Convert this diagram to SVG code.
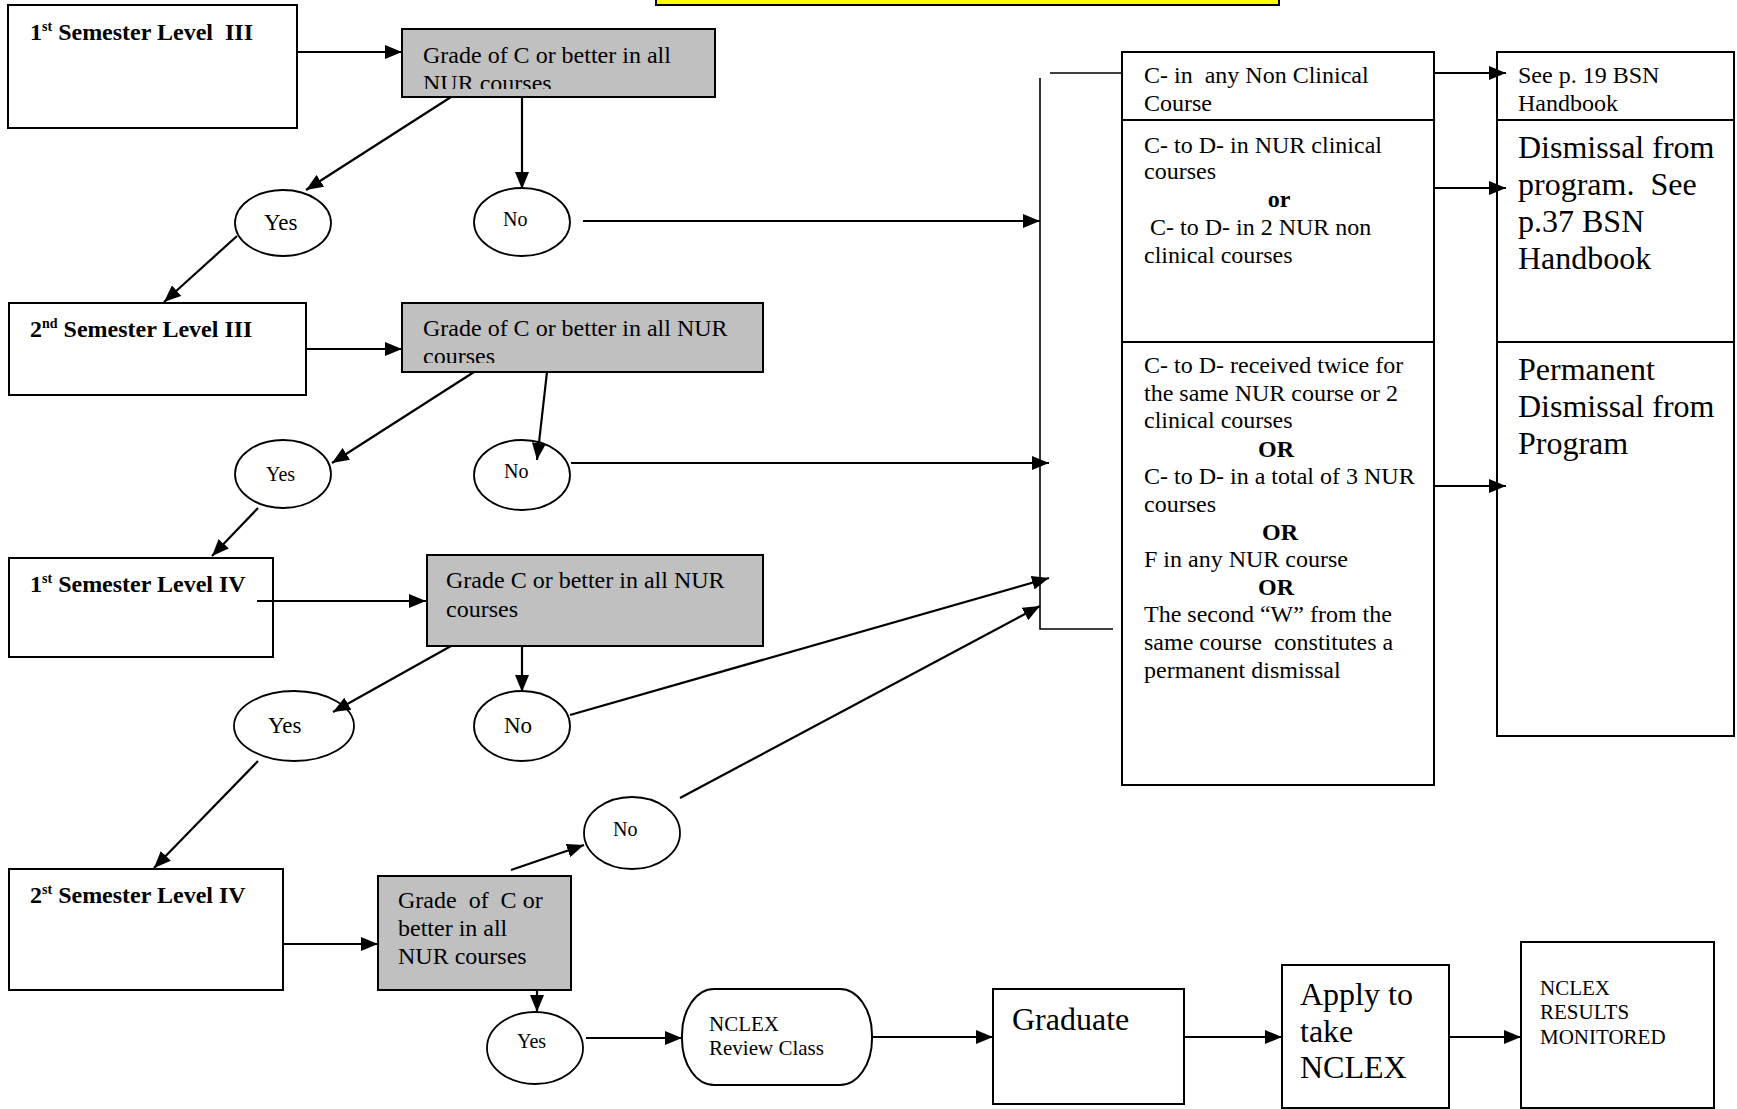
<svg xmlns="http://www.w3.org/2000/svg" width="1737" height="1109" viewBox="0 0 1737 1109">
<style>
.bx{fill:#fff;stroke:#000;stroke-width:2}
.gy{fill:#c0c0c0;stroke:#000;stroke-width:2}
.el{fill:#fff;stroke:#000;stroke-width:1.8}
.ln{fill:none;stroke:#000;stroke-width:2.2}
.br{fill:none;stroke:#000;stroke-width:1.6}
text{font-family:"Liberation Serif","Times New Roman",serif;fill:#000;white-space:pre}
.t{font-size:24px}
.tb{font-size:24px;font-weight:bold}
.big{font-size:32px}
.sm{font-size:21px}
.yn{font-size:20px}
.yn2{font-size:23px}
</style>
<defs>
<marker id="ah" markerUnits="userSpaceOnUse" markerWidth="18" markerHeight="14" refX="17" refY="7" orient="auto">
<path d="M0,0 L17,7 L0,14 z" fill="#000"/>
</marker>
<clipPath id="c1"><rect x="402" y="29" width="313" height="60"/></clipPath>
<clipPath id="c2"><rect x="402" y="303" width="361" height="60"/></clipPath>
</defs>

<g id="title-bar"><rect x="656" y="-12" width="623" height="17" fill="#ffff00" stroke="#000" stroke-width="2"/></g>

<g id="sem1-l3"><rect class="bx" x="8" y="5" width="289" height="123"/>
<text class="tb" x="30" y="40">1<tspan font-size="14" dy="-9">st</tspan><tspan dy="9"> Semester Level  III</tspan></text></g>
<g id="grade1"><rect class="gy" x="402" y="29" width="313" height="68"/>
<text class="t" x="423" y="63">Grade of C or better in all</text>
<text class="t" x="423" y="91" clip-path="url(#c1)">NUR courses</text></g>
<g id="yes1"><ellipse class="el" cx="283" cy="223" rx="48" ry="33"/><text class="yn2" x="264" y="230">Yes</text></g>
<g id="no1"><ellipse class="el" cx="522" cy="222" rx="48" ry="34"/><text class="yn" x="503" y="226">No</text></g>

<g id="sem2-l3"><rect class="bx" x="9" y="303" width="297" height="92"/>
<text class="tb" x="30" y="337">2<tspan font-size="14" dy="-9">nd</tspan><tspan dy="9"> Semester Level III</tspan></text></g>
<g id="grade2"><rect class="gy" x="402" y="303" width="361" height="69"/>
<text class="t" x="423" y="336">Grade of C or better in all NUR</text>
<text class="t" x="423" y="364" clip-path="url(#c2)">courses</text></g>
<g id="yes2"><ellipse class="el" cx="283" cy="474" rx="48" ry="34"/><text class="yn" x="266" y="481">Yes</text></g>
<g id="no2"><ellipse class="el" cx="522" cy="475" rx="48" ry="35"/><text class="yn" x="504" y="478">No</text></g>

<g id="sem1-l4"><rect class="bx" x="9" y="558" width="264" height="99"/>
<text class="tb" x="30" y="592">1<tspan font-size="14" dy="-9">st</tspan><tspan dy="9"> Semester Level IV</tspan></text></g>
<g id="grade3"><rect class="gy" x="427" y="555" width="336" height="91"/>
<text class="t" x="446" y="588">Grade C or better in all NUR</text>
<text class="t" x="446" y="617">courses</text></g>
<g id="yes3"><ellipse class="el" cx="294" cy="726" rx="60" ry="35"/><text class="yn2" x="268" y="733">Yes</text></g>
<g id="no3"><ellipse class="el" cx="522" cy="726" rx="48" ry="35"/><text class="yn2" x="504" y="733">No</text></g>

<g id="sem2-l4"><rect class="bx" x="9" y="869" width="274" height="121"/>
<text class="tb" x="30" y="903">2<tspan font-size="14" dy="-9">st</tspan><tspan dy="9"> Semester Level IV</tspan></text></g>
<g id="grade4"><rect class="gy" x="378" y="876" width="193" height="114"/>
<text class="t" x="398" y="908">Grade  of  C or</text>
<text class="t" x="398" y="936">better in all</text>
<text class="t" x="398" y="964">NUR courses</text></g>
<g id="no4"><ellipse class="el" cx="632" cy="833" rx="48" ry="36"/><text class="yn" x="613" y="836">No</text></g>
<g id="yes4"><ellipse class="el" cx="535" cy="1048" rx="48" ry="36"/><text class="yn" x="517" y="1048">Yes</text></g>

<g id="nclex-review"><rect class="bx" x="682" y="989" width="190" height="96" rx="32" ry="46"/>
<text class="sm" x="709" y="1031">NCLEX</text>
<text class="sm" x="709" y="1055">Review Class</text></g>
<g id="graduate"><rect class="bx" x="993" y="989" width="191" height="115"/>
<text class="big" x="1012" y="1030">Graduate</text></g>
<g id="apply"><rect class="bx" x="1282" y="965" width="167" height="143"/>
<text class="big" x="1300" y="1005">Apply to</text>
<text class="big" x="1300" y="1042">take</text>
<text class="big" x="1300" y="1078">NCLEX</text></g>
<g id="results"><rect class="bx" x="1521" y="942" width="193" height="166"/>
<text class="sm" x="1540" y="995">NCLEX</text>
<text class="sm" x="1540" y="1019">RESULTS</text>
<text class="sm" x="1540" y="1044">MONITORED</text></g>

<g id="criteria"><rect class="bx" x="1122" y="52" width="312" height="733"/>
<line class="bx" x1="1122" y1="120" x2="1434" y2="120"/>
<line class="bx" x1="1122" y1="342" x2="1434" y2="342"/>
<text class="t" x="1144" y="83">C- in  any Non Clinical</text>
<text class="t" x="1144" y="111">Course</text>
<text class="t" x="1144" y="153">C- to D- in NUR clinical</text>
<text class="t" x="1144" y="179">courses</text>
<text class="tb" x="1279" y="207" text-anchor="middle">or</text>
<text class="t" x="1144" y="235"> C- to D- in 2 NUR non</text>
<text class="t" x="1144" y="263">clinical courses</text>
<text class="t" x="1144" y="373">C- to D- received twice for</text>
<text class="t" x="1144" y="401">the same NUR course or 2</text>
<text class="t" x="1144" y="428">clinical courses</text>
<text class="tb" x="1276" y="457" text-anchor="middle">OR</text>
<text class="t" x="1144" y="484">C- to D- in a total of 3 NUR</text>
<text class="t" x="1144" y="512">courses</text>
<text class="tb" x="1280" y="540" text-anchor="middle">OR</text>
<text class="t" x="1144" y="567">F in any NUR course</text>
<text class="tb" x="1276" y="595" text-anchor="middle">OR</text>
<text class="t" x="1144" y="622">The second “W” from the</text>
<text class="t" x="1144" y="650">same course  constitutes a</text>
<text class="t" x="1144" y="678">permanent dismissal</text></g>

<g id="outcomes"><rect class="bx" x="1497" y="52" width="237" height="684"/>
<line class="bx" x1="1497" y1="120" x2="1734" y2="120"/>
<line class="bx" x1="1497" y1="342" x2="1734" y2="342"/>
<text class="t" x="1518" y="83">See p. 19 BSN</text>
<text class="t" x="1518" y="111">Handbook</text>
<text class="big" x="1518" y="158">Dismissal from</text>
<text class="big" x="1518" y="195">program.  See</text>
<text class="big" x="1518" y="232">p.37 BSN</text>
<text class="big" x="1518" y="269">Handbook</text>
<text class="big" x="1518" y="380">Permanent</text>
<text class="big" x="1518" y="417">Dismissal from</text>
<text class="big" x="1518" y="454">Program</text></g>

<g id="connectors">
<line class="ln" x1="297" y1="52" x2="402" y2="52" marker-end="url(#ah)"/>
<line class="ln" x1="451" y1="97" x2="306" y2="190" marker-end="url(#ah)"/>
<line class="ln" x1="522" y1="97" x2="522" y2="189" marker-end="url(#ah)"/>
<line class="ln" x1="583" y1="221" x2="1040" y2="221" marker-end="url(#ah)"/>
<line class="ln" x1="237" y1="236" x2="164" y2="302" marker-end="url(#ah)"/>
<line class="ln" x1="306" y1="349" x2="402" y2="349" marker-end="url(#ah)"/>
<line class="ln" x1="474" y1="372" x2="332" y2="463" marker-end="url(#ah)"/>
<line class="ln" x1="547" y1="372" x2="537" y2="460" marker-end="url(#ah)"/>
<line class="ln" x1="571" y1="463" x2="1049" y2="463" marker-end="url(#ah)"/>
<line class="ln" x1="258" y1="508" x2="212" y2="556" marker-end="url(#ah)"/>
<line class="ln" x1="257" y1="601" x2="426" y2="601" marker-end="url(#ah)"/>
<line class="ln" x1="451" y1="646" x2="333" y2="712" marker-end="url(#ah)"/>
<line class="ln" x1="522" y1="646" x2="522" y2="692" marker-end="url(#ah)"/>
<line class="ln" x1="570" y1="715" x2="1049" y2="578" marker-end="url(#ah)"/>
<line class="ln" x1="258" y1="761" x2="154" y2="868" marker-end="url(#ah)"/>
<line class="ln" x1="283" y1="944" x2="378" y2="944" marker-end="url(#ah)"/>
<line class="ln" x1="511" y1="870" x2="584" y2="845" marker-end="url(#ah)"/>
<line class="ln" x1="680" y1="798" x2="1040" y2="606" marker-end="url(#ah)"/>
<line class="ln" x1="537" y1="990" x2="537" y2="1012" marker-end="url(#ah)"/>
<line class="ln" x1="586" y1="1038" x2="682" y2="1038" marker-end="url(#ah)"/>
<line class="ln" x1="872" y1="1037" x2="993" y2="1037" marker-end="url(#ah)"/>
<line class="ln" x1="1184" y1="1037" x2="1282" y2="1037" marker-end="url(#ah)"/>
<line class="ln" x1="1449" y1="1037" x2="1521" y2="1037" marker-end="url(#ah)"/>
<line class="ln" x1="1434" y1="73" x2="1506" y2="73" marker-end="url(#ah)"/>
<line class="ln" x1="1434" y1="188" x2="1506" y2="188" marker-end="url(#ah)"/>
<line class="ln" x1="1434" y1="486" x2="1506" y2="486" marker-end="url(#ah)"/>
<line class="br" x1="1050" y1="73" x2="1122" y2="73"/>
<polyline class="br" points="1040,78 1040,629 1113,629"/>
</g>
</svg>
